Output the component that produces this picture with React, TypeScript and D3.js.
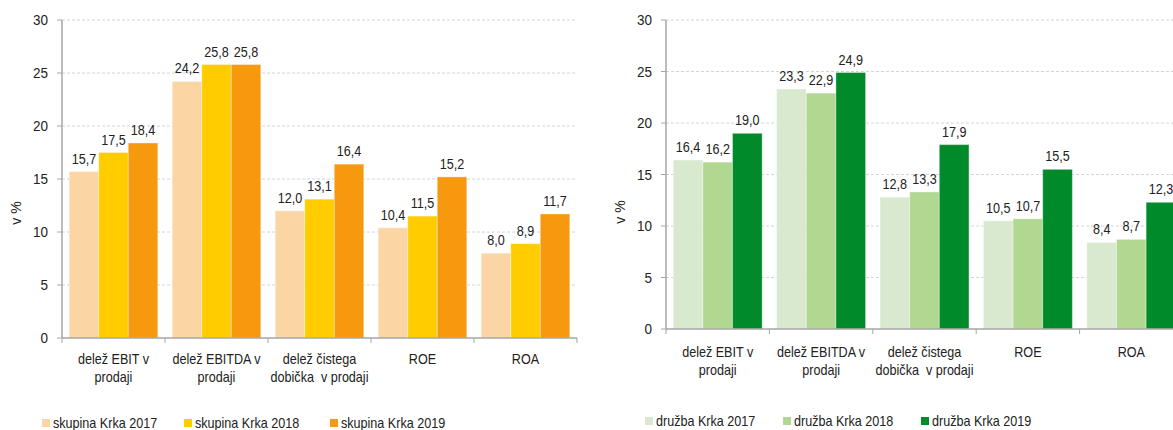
import React, { useRef, useEffect } from "react";
import * as d3 from "d3";

// categories (two-line axis labels)
const categories = ["EBIT", "EBITDA", "cisti", "ROE", "ROA"];
const categoryLines = [
  ["delež EBIT v", "prodaji"],
  ["delež EBITDA v", "prodaji"],
  ["delež čistega", "dobička  v prodaji"],
  ["ROE"],
  ["ROA"],
];
const yTicks = [0, 5, 10, 15, 20, 25, 30];

// skupina Krka
const skupina2017 = [15.7, 24.2, 12.0, 10.4, 8.0];
const skupina2018 = [17.5, 25.8, 13.1, 11.5, 8.9];
const skupina2019 = [18.4, 25.8, 16.4, 15.2, 11.7];
const skupinaNames = ["skupina Krka 2017", "skupina Krka 2018", "skupina Krka 2019"];

// družba Krka
const druzba2017 = [16.4, 23.3, 12.8, 10.5, 8.4];
const druzba2018 = [16.2, 22.9, 13.3, 10.7, 8.7];
const druzba2019 = [19.0, 24.9, 17.9, 15.5, 12.3];
const druzbaNames = ["družba Krka 2017", "družba Krka 2018", "družba Krka 2019"];

const FONT = "'Liberation Sans', Arial, sans-serif";

type Panel = {
  series: number[][];
  names: string[];
  colors: string[];
  x0: number;
  x1: number;
  yTop: number;
  yBottom: number;
  tickRight: number;
  titleX: number;
  titleY: number;
  catDy: number[];
  legendY: number;
  legendX: number[];
};

// slightly condensed text, like the original Arial Narrow-ish look
function label(g: any, x: number, y: number, str: string | number, anchor = "middle", size = 14) {
  return g
    .append("text")
    .attr("transform", `translate(${x},${y}) scale(0.9,1)`)
    .attr("text-anchor", anchor)
    .attr("font-family", FONT)
    .attr("font-size", size)
    .attr("fill", "#222")
    .style("white-space", "pre")
    .text(str);
}

function drawPanel(svg: d3.Selection<SVGSVGElement, unknown, null, undefined>, p: Panel) {
  const g = svg.append("g");
  const x = d3.scaleBand<string>().domain(categories).range([p.x0, p.x1]).paddingInner(0.14).paddingOuter(0.07);
  const sub = d3.scaleBand<number>().domain([0, 1, 2]).range([0, x.bandwidth()]);
  const y = d3.scaleLinear().domain([0, 30]).range([p.yBottom, p.yTop]);

  // gridlines
  g.selectAll(".grid")
    .data(yTicks.filter((t) => t > 0))
    .join("line")
    .attr("x1", p.x0)
    .attr("x2", p.x1)
    .attr("y1", (d) => y(d))
    .attr("y2", (d) => y(d))
    .attr("stroke", "#d4d4d4")
    .attr("stroke-dasharray", "3,2")
    .attr("stroke-width", 1);

  // bars
  p.series.forEach((vals, si) => {
    g.selectAll(".bar" + si)
      .data(vals)
      .join("rect")
      .attr("x", (d, i) => (x(categories[i]) as number) + (sub(si) as number))
      .attr("y", (d) => y(d))
      .attr("width", sub.bandwidth())
      .attr("height", (d) => y(0) - y(d))
      .attr("fill", p.colors[si])
      .attr("stroke", "rgba(255,255,255,0.35)")
      .attr("stroke-width", 1);
  });

  // value labels
  p.series.forEach((vals, si) => {
    vals.forEach((d, i) => {
      const cx = (x(categories[i]) as number) + (sub(si) as number) + sub.bandwidth() / 2;
      label(g, cx, y(d) - 8, d.toFixed(1).replace(".", ","));
    });
  });

  // y axis
  g.append("line")
    .attr("x1", p.x0)
    .attr("x2", p.x0)
    .attr("y1", p.yTop)
    .attr("y2", p.yBottom)
    .attr("stroke", "#a6a6a6")
    .attr("stroke-width", 1.5);
  g.selectAll(".ytick")
    .data(yTicks)
    .join("line")
    .attr("x1", p.x0 - 5)
    .attr("x2", p.x0)
    .attr("y1", (d) => y(d))
    .attr("y2", (d) => y(d))
    .attr("stroke", "#a6a6a6");
  yTicks.forEach((t) => label(g, p.tickRight, y(t) + 5, t, "end", 15));

  // x axis
  g.append("line")
    .attr("x1", p.x0)
    .attr("x2", p.x1)
    .attr("y1", p.yBottom)
    .attr("y2", p.yBottom)
    .attr("stroke", "#a6a6a6")
    .attr("stroke-width", 1.5);
  const bounds = categories.map((c) => (x(c) as number) - (x.step() - x.bandwidth()) / 2).concat([p.x1]);
  g.selectAll(".xtick")
    .data(bounds)
    .join("line")
    .attr("x1", (d) => d)
    .attr("x2", (d) => d)
    .attr("y1", p.yBottom)
    .attr("y2", p.yBottom + 5)
    .attr("stroke", "#a6a6a6");
  categories.forEach((c, i) => {
    const cx = (x(c) as number) + x.bandwidth() / 2;
    categoryLines[i].forEach((ln, li) => label(g, cx, p.yBottom + p.catDy[li], ln));
  });

  // axis title
  g.append("text")
    .attr("transform", `translate(${p.titleX},${p.titleY}) rotate(-90)`)
    .attr("text-anchor", "middle")
    .attr("font-family", FONT)
    .attr("font-size", 14)
    .attr("fill", "#222")
    .text("v %");

  // legend
  p.names.forEach((n, i) => {
    g.append("rect")
      .attr("x", p.legendX[i])
      .attr("y", p.legendY - 9)
      .attr("width", 8)
      .attr("height", 8)
      .attr("fill", p.colors[i]);
    label(g, p.legendX[i] + 11, p.legendY, n, "start");
  });
}

export default function App() {
  const svgRef = useRef<SVGSVGElement>(null);

  useEffect(() => {
    const svg = d3.select(svgRef.current as SVGSVGElement);
    svg.selectAll("*").remove();

    drawPanel(svg, {
      series: [skupina2017, skupina2018, skupina2019],
      names: skupinaNames,
      colors: ["#fcd5a5", "#ffcc00", "#f7990f"],
      x0: 62,
      x1: 577,
      yTop: 20,
      yBottom: 338,
      tickRight: 48,
      titleX: 21,
      titleY: 213,
      catDy: [26, 44],
      legendY: 428,
      legendX: [42, 184, 330],
    });

    drawPanel(svg, {
      series: [druzba2017, druzba2018, druzba2019],
      names: druzbaNames,
      colors: ["#d8e9d0", "#b0d890", "#008a2a"],
      x0: 666,
      x1: 1183,
      yTop: 20,
      yBottom: 329,
      tickRight: 652,
      titleX: 625,
      titleY: 212,
      catDy: [28, 46],
      legendY: 426,
      legendX: [645, 783, 921],
    });
  }, []);

  return (
    <svg
      ref={svgRef}
      width={1173}
      height={430}
      style={{ position: "absolute", left: 0, top: 0, background: "#fff" }}
    />
  );
}
